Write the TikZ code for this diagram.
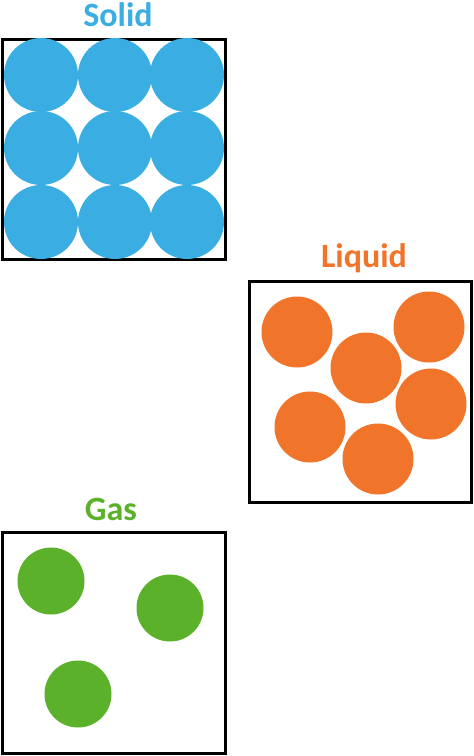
\documentclass[tikz,border=0pt]{standalone}
\usepackage{fontspec}
\setmainfont{Carlito}
\definecolor{solidblue}{RGB}{58,174,226}
\definecolor{liqorange}{RGB}{240,117,42}
\definecolor{gasgreen}{RGB}{91,177,42}
\begin{document}
\begin{tikzpicture}[x=1pt,y=-1pt,
  frame/.style={draw=black,line width=3pt,fill=white},
  particle/.style={circle,inner sep=0pt,minimum size=#1,draw=none},
  title/.style={font=\fontsize{34}{38}\selectfont\bfseries,inner sep=0pt}]
\useasboundingbox (0,0) rectangle (474,756);
% Solid
\node[title,text=solidblue] (tsolid) at (118,15) {Solid};
\draw[frame] (2,39) rectangle (225,259);
\foreach \r/\y in {1/75,2/148,3/222}{
  \foreach \c/\x in {1/41,2/115,3/187}{
    \node[particle=74pt,fill=solidblue] (s\r\c) at (\x,\y) {};
  }
}
% Liquid
\node[title,text=liqorange] (tliquid) at (364,258) {Liquid};
\draw[frame] (249,281) rectangle (471,502);
\node[particle=71pt,fill=liqorange] (l1) at (297,332) {};
\node[particle=71pt,fill=liqorange] (l2) at (366,368) {};
\node[particle=71pt,fill=liqorange] (l3) at (429,327) {};
\node[particle=71pt,fill=liqorange] (l4) at (310,427) {};
\node[particle=71pt,fill=liqorange] (l5) at (431,404) {};
\node[particle=71pt,fill=liqorange] (l6) at (378,459) {};
% Gas
\node[title,text=gasgreen] (tgas) at (111,509) {Gas};
\draw[frame] (2,532) rectangle (225,753);
\node[particle=67pt,fill=gasgreen] (g1) at (51,581) {};
\node[particle=67pt,fill=gasgreen] (g2) at (170,608) {};
\node[particle=67pt,fill=gasgreen] (g3) at (78,694) {};
\end{tikzpicture}
\end{document}
